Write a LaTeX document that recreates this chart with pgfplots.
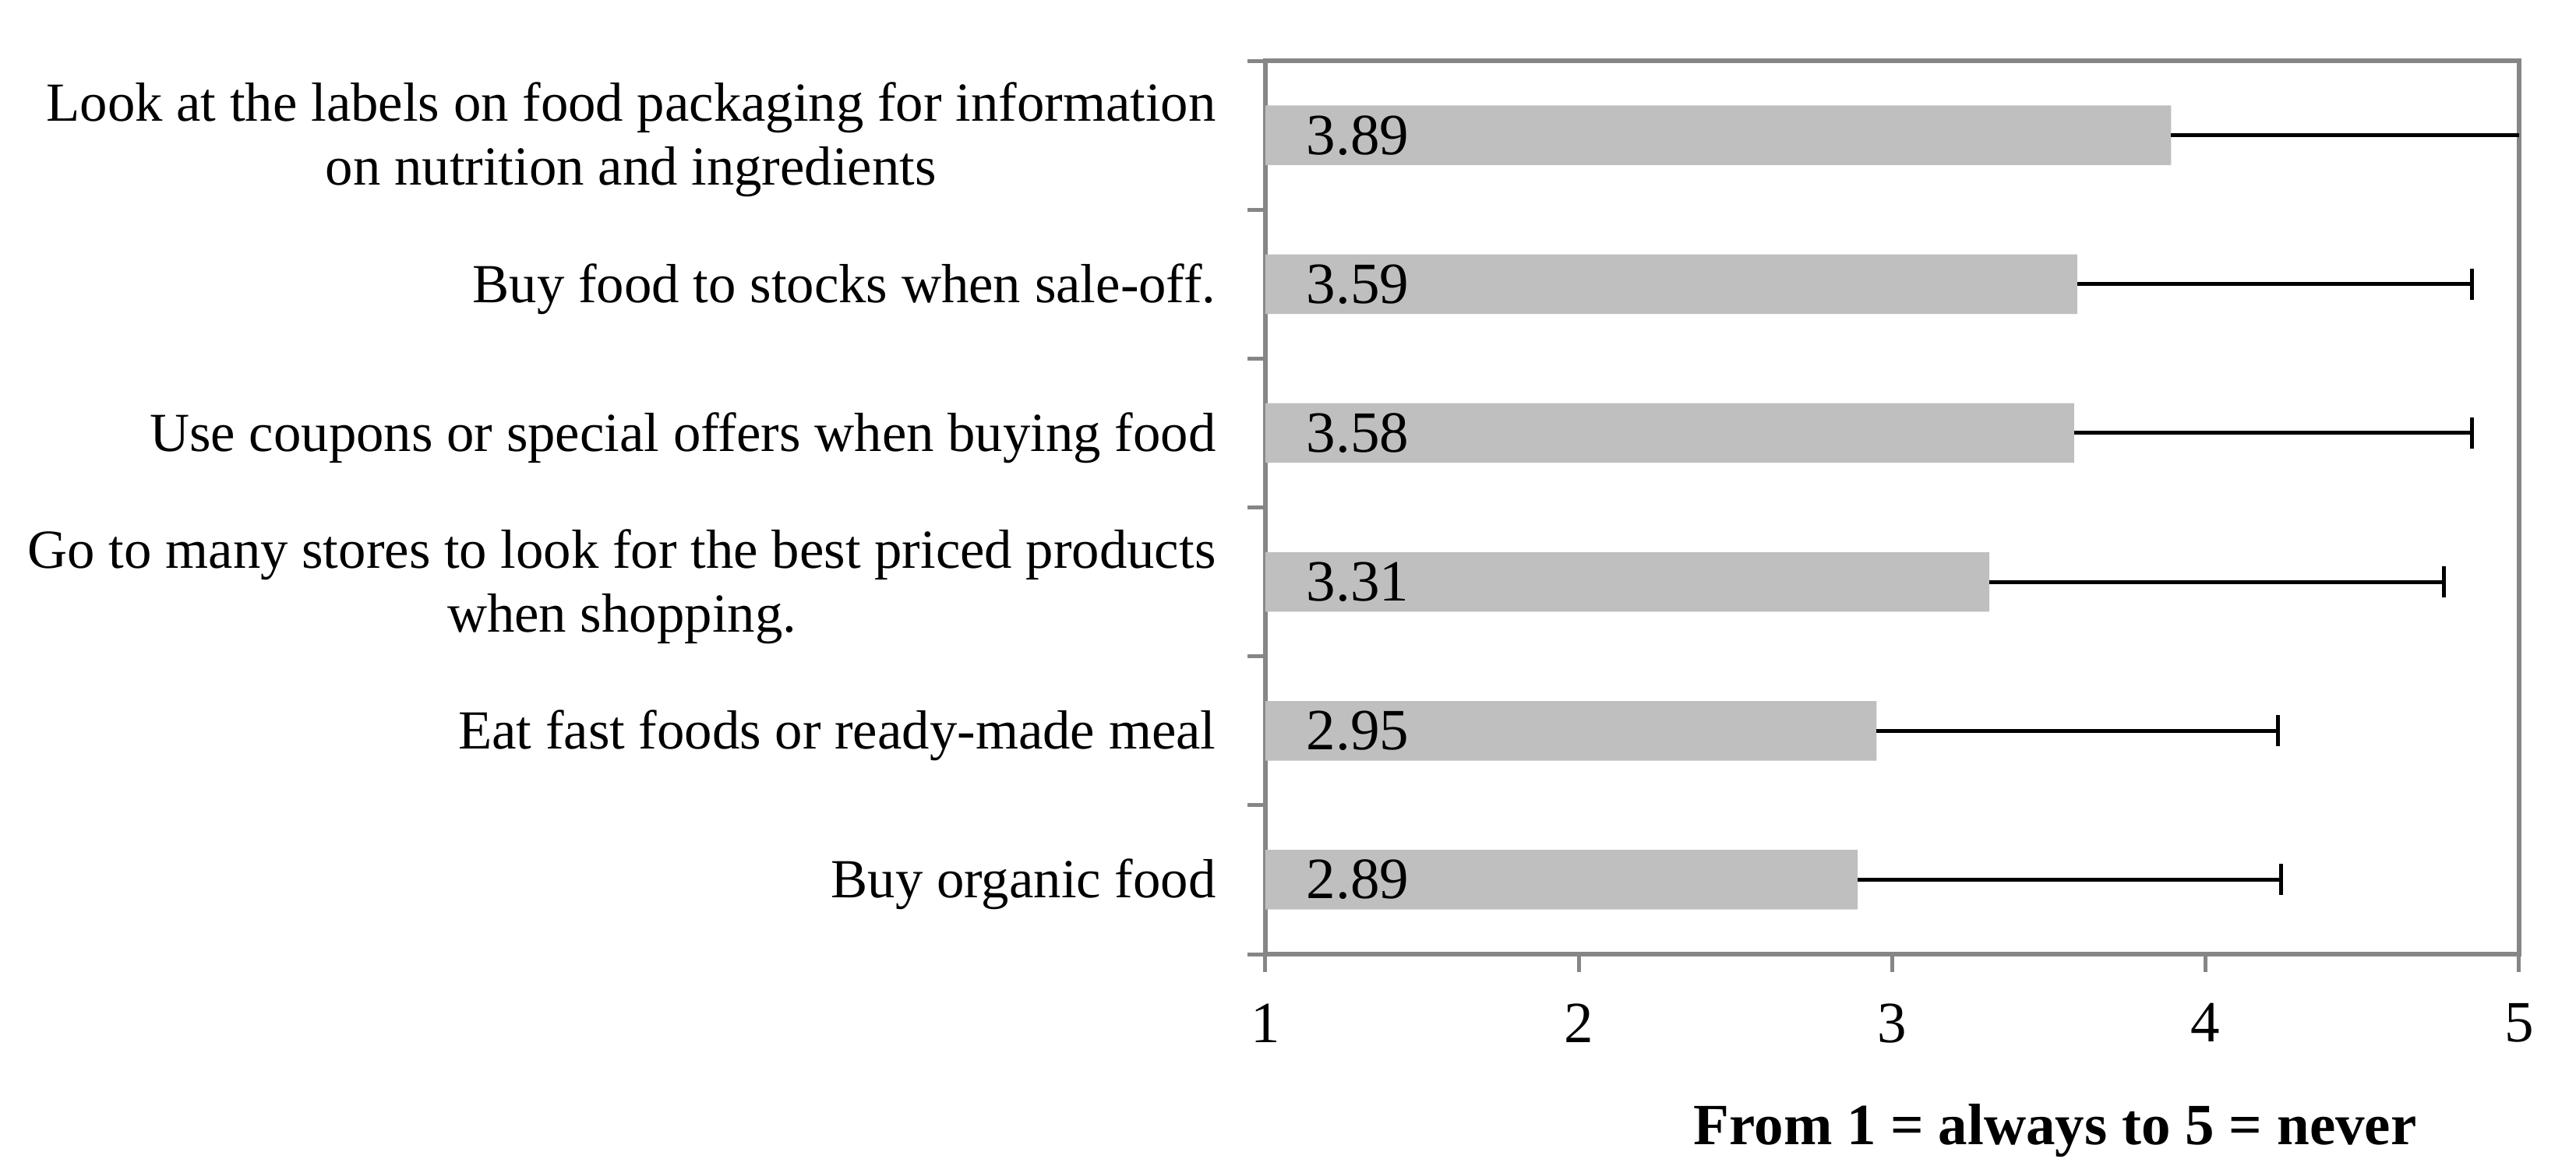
\documentclass[border=0pt]{standalone}
\usepackage{fontspec}
\setmainfont{Liberation Serif}
\usepackage{pgfplots}
\pgfplotsset{compat=1.18}
\definecolor{barfill}{HTML}{BFBFBF}
\definecolor{axisgray}{HTML}{868686}

\begin{document}
\begin{tikzpicture}
\begin{axis}[
    at={(0,0)}, anchor=south west,
    scale only axis,
    width=321.8pt, height=229.4pt,
    xmin=1, xmax=5,
    ymin=-0.5, ymax=5.5,
    xtick={1,2,3,4,5},
    ytick={0,1,2,3,4,5},
    yticklabels={
        Buy organic food,
        Eat fast foods or ready-made meal,
        {Go to many stores to look for the best priced products\\when shopping.},
        Use coupons or special offers when buying food,
        Buy food to stocks when sale-off.,
        {Look at the labels on food packaging for information\\on nutrition and ingredients}},
    minor ytick={-0.5,0.5,1.5,2.5,3.5,4.5,5.5},
    tick pos=left,
    tick align=outside,
    major tick length=4.5pt,
    minor tick length=4.5pt,
    major x tick style={axisgray, line width=1pt},
    major y tick style={draw=none},
    minor y tick style={axisgray, line width=1pt},
    axis line style={axisgray, line width=1.3pt},
    /pgf/number format/assume math mode=true,
    xticklabel style={font=\fontsize{15}{18}\selectfont, inner sep=0pt, yshift=-8pt},
    yticklabel style={font=\fontsize{14.15}{16.4}\selectfont, align=center, inner sep=0pt,
                      xshift=-8pt, yshift=-1.2pt},
    xlabel={From 1 = always to 5 = never},
    xlabel style={at={(axis description cs:0.63,0)}, anchor=base, yshift=-48.8pt,
                  font=\fontsize{15}{18}\selectfont\bfseries},
]

% mean scores with SD (right side only)
\addplot[xbar, bar width=0.4, fill=barfill, draw=none,
         error bars/.cd, x dir=plus, x explicit, error mark=|,
         error bar style={black, line width=1pt},
         error mark options={black, line width=1pt, mark size=4pt}]
coordinates {
(2.89,0) +- (1.35,0)
(2.95,1) +- (1.28,0)
(3.31,2) +- (1.45,0)
(3.58,3) +- (1.27,0)
(3.59,4) +- (1.26,0)
(3.89,5) +- (1.30,0)
};

% value labels at the bar base
\addplot[draw=none, mark=none, nodes near coords, point meta=explicit symbolic,
         nodes near coords style={anchor=west, xshift=10.4pt, inner sep=0pt,
                                  font=\fontsize{15}{18}\selectfont}]
coordinates {
(1,0) [2.89]
(1,1) [2.95]
(1,2) [3.31]
(1,3) [3.58]
(1,4) [3.59]
(1,5) [3.89]
};

\end{axis}
\pgfresetboundingbox
\path[use as bounding box] (-324.8pt,-56pt) rectangle (336.4pt,245pt);
\end{tikzpicture}
\end{document}
